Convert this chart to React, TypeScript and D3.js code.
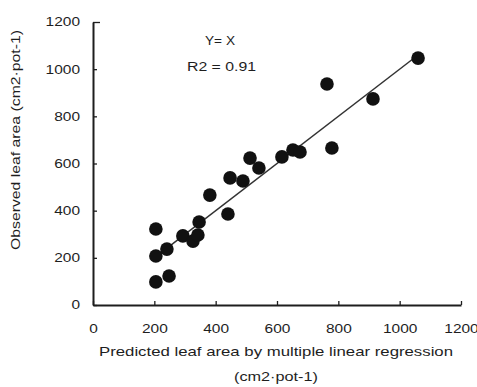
import React, { useEffect, useRef } from 'react';
import * as d3 from 'd3';

// predicted (x) vs observed (y) leaf area, cm2 per pot
const predicted = [205, 205, 241, 205, 248, 293, 326, 342, 346, 381, 440, 447, 489, 512, 541, 616, 652, 675, 763, 779, 913, 1060];
const observed = [322, 208, 237, 98, 123, 293, 271, 297, 352, 466, 386, 539, 526, 623, 581, 628, 657, 649, 937, 666, 874, 1047];
const tickValues = [0, 200, 400, 600, 800, 1000, 1200];
const lineExtent = [200, 1060];

const W = 477;
const H = 387;

export default function App() {
  const ref = useRef<SVGSVGElement>(null);

  useEffect(() => {
    const svg = d3.select(ref.current);
    svg.selectAll('*').remove();

    const x = d3.scaleLinear().domain([0, 1200]).range([93, 461]);
    const y = d3.scaleLinear().domain([0, 1200]).range([305, 22]);
    const font = 'Liberation Sans, Arial, sans-serif';
    const ink = '#1e1e1e';

    // axes with inward ticks
    const xAxis = svg.append('g').attr('transform', 'translate(0,305)')
      .call(d3.axisBottom(x).tickValues(tickValues).tickFormat(d3.format('d')).tickSize(-4).tickPadding(19).tickSizeOuter(0));
    const yAxis = svg.append('g').attr('transform', 'translate(93,0)')
      .call(d3.axisLeft(y).tickValues(tickValues).tickFormat(d3.format('d')).tickSize(-4).tickPadding(13).tickSizeOuter(0));

    [xAxis, yAxis].forEach(g => {
      g.select('.domain').attr('stroke', ink).attr('stroke-width', 2);
      g.selectAll('.tick line').attr('stroke', ink).attr('stroke-width', 1.3);
      g.selectAll<SVGTextElement, number>('.tick text')
        .attr('fill', ink)
        .style('font-family', font).style('font-size', '12px')
        .attr('textLength', d => String(d).length * 8.6)
        .attr('lengthAdjust', 'spacingAndGlyphs');
    });
    // top tick on y axis (1200)
    yAxis.select('.tick:last-of-type line').attr('x2', 7);

    // Y = X line
    svg.append('line')
      .attr('x1', x(lineExtent[0])).attr('y1', y(lineExtent[0]))
      .attr('x2', x(lineExtent[1])).attr('y2', y(lineExtent[1]))
      .attr('stroke', '#333').attr('stroke-width', 1.5);

    svg.append('g').selectAll('circle')
      .data(predicted.map((p, i) => [p, observed[i]]))
      .enter()
      .append('circle')
      .attr('cx', d => x(d[0]))
      .attr('cy', d => y(d[1]))
      .attr('r', 6.8)
      .attr('fill', '#111');

    const txt = (s: string, tx: number, ty: number, size: number, len: number, anchor = 'middle', rot = 0) =>
      svg.append('text')
        .attr('x', tx).attr('y', ty)
        .attr('text-anchor', anchor)
        .attr('transform', rot ? `rotate(${rot},${tx},${ty})` : null)
        .attr('textLength', len)
        .attr('lengthAdjust', 'spacingAndGlyphs')
        .style('font-family', font).style('font-size', size + 'px')
        .attr('fill', ink)
        .text(s);

    txt('Y= X', 205, 45, 12, 30, 'start');
    txt('R2 = 0.91', 187, 71, 12, 69, 'start');
    txt('Predicted leaf area by multiple linear regression', 276, 356, 13, 354);
    txt('(cm2·pot-1)', 276, 381, 13, 84);
    txt('Observed leaf area (cm2·pot-1)', 20, 140, 13, 220, 'middle', -90);
  }, []);

  return <svg ref={ref} width={W} height={H} style={{ position: 'absolute', left: 0, top: 0, background: '#fff' }} />;
}
